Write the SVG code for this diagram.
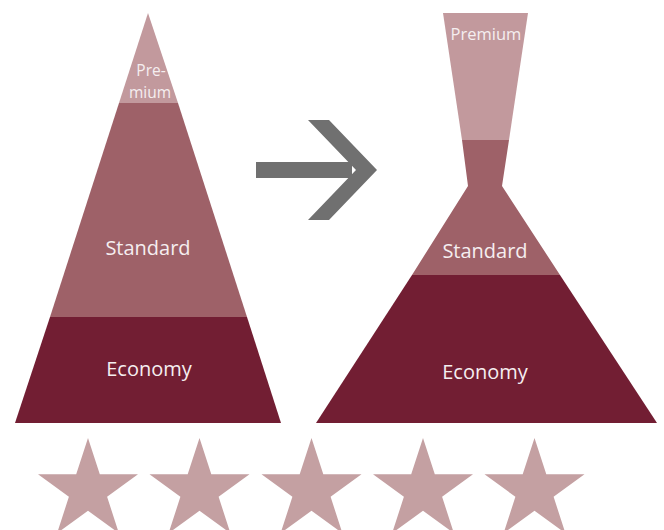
<svg xmlns="http://www.w3.org/2000/svg" width="664" height="530" viewBox="0 0 664 530">
<defs>
<style>
.prem{fill:#c2999d}
.std{fill:#9e6168}
.eco{fill:#721e33}
.star{fill:#c4a0a2}
.arrow{fill:#707070}
text{font-family:"Open Sans","Noto Sans","Liberation Sans",sans-serif;fill:#f5eef0;text-anchor:middle}
.big{font-size:20px}
.small{font-size:16.5px}
.tiny{font-size:15.5px}
</style>
<polygon id="starShape" points="0,-52.6 11.8,-16.3 50,-16.3 19.1,6.2 30.9,42.6 0,20.1 -30.9,42.6 -19.1,6.2 -50,-16.3 -11.8,-16.3"/>
</defs>
<g id="left-pyramid">
<g id="left-premium">
<polygon class="prem" points="148,13 178,103 119,103"/>
<text class="tiny" x="151" y="76">Pre-</text>
<text class="tiny" x="150" y="97.8">mium</text>
</g>
<g id="left-standard">
<polygon class="std" points="119,103 178,103 247,317 50,317"/>
<text class="big" x="148" y="255">Standard</text>
</g>
<g id="left-economy">
<polygon class="eco" points="50,317 247,317 281,423 15,423"/>
<text class="big" x="149" y="376">Economy</text>
</g>
</g>
<g id="arrow">
<rect class="arrow" x="256" y="162" width="96" height="16"/>
<polygon class="arrow" points="308,120 329,120 377,170 329,220 308,220 356,170"/>
</g>
<g id="right-shape">
<g id="right-premium">
<polygon class="prem" points="443,13 528,13 509,140 462,140"/>
<text class="small" x="486" y="40">Premium</text>
</g>
<g id="right-standard">
<polygon class="std" points="462,140 509,140 502,186 560,275 412,275 468,186"/>
<text class="big" x="485" y="258">Standard</text>
</g>
<g id="right-economy">
<polygon class="eco" points="412,275 560,275 657,423 316,423"/>
<text class="big" x="485" y="379">Economy</text>
</g>
</g>
<g id="stars">
<use href="#starShape" class="star" x="88" y="490.6"/>
<use href="#starShape" class="star" x="199.5" y="490.6"/>
<use href="#starShape" class="star" x="311.5" y="490.6"/>
<use href="#starShape" class="star" x="423" y="490.6"/>
<use href="#starShape" class="star" x="534.5" y="490.6"/>
</g>
</svg>
